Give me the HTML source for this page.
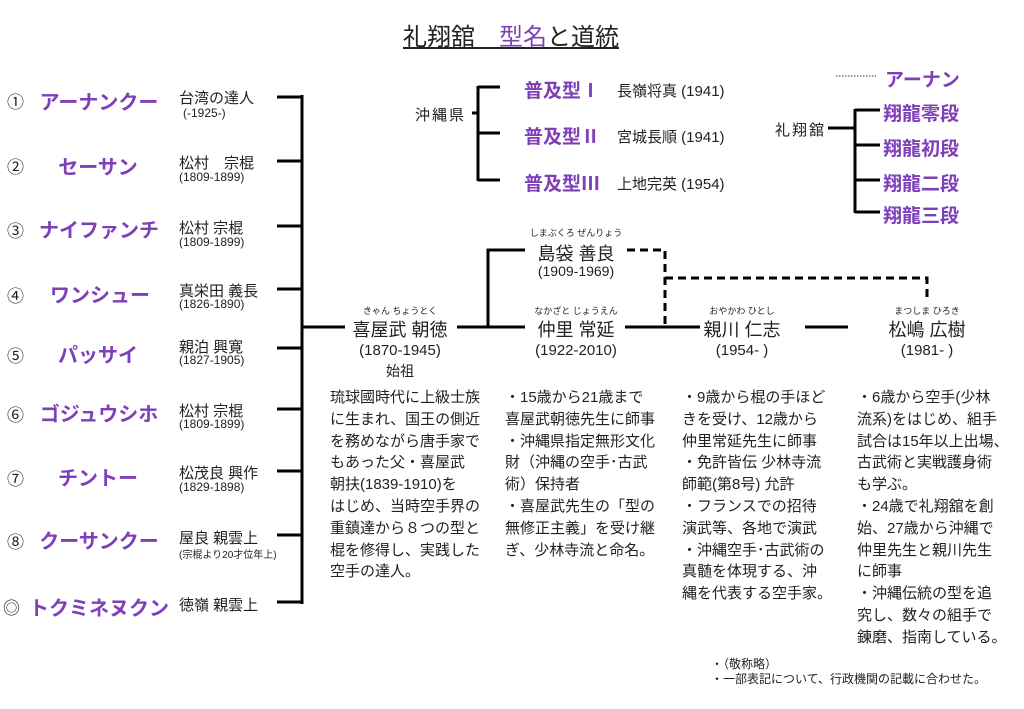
<!DOCTYPE html>
<html><head><meta charset="utf-8"><style>
body{margin:0;width:1024px;height:709px;background:#fff;position:relative;overflow:hidden;font-family:"Liberation Sans","Noto Sans CJK JP",sans-serif;color:#222}
.a{position:absolute;white-space:nowrap}
.p{color:#7e3fb8;font-weight:bold}
.k{font-size:20px;transform:translateX(-50%)}
.n{font-size:15px}
.d{font-size:12px}
.c{transform:translateX(-50%);text-align:center}
.t{font-size:15px;line-height:21.8px}
.m{font-size:17px}
svg{position:absolute;left:0;top:0}
</style></head><body>
<svg width="1024" height="709">
<g stroke="#000" stroke-width="3" fill="none">
<path d="M277 97H302M277 161H302M277 226H302M277 289H302M277 348H302M277 409H302M277 471H302M277 535H302M277 602H302M302 95V604M302 327H345"/>
<path d="M457 327H525M488 327V250H525M625 327H700M805 327H848"/>
<path d="M472 113H478M478 86V181M478 87H500M478 133H500M478 180H500"/>
<path d="M828 128H855M855 109V213M855 110H880M855 145H880M855 180H880M855 212H880"/>
</g>
<g stroke="#000" stroke-width="3" fill="none" stroke-dasharray="8,5">
<path d="M627 250H665V327M665 278H927V300"/>
</g>
<path d="M836 76H876" stroke="#333" stroke-width="1" stroke-dasharray="1.5,1.5"/>
</svg>
<div class="a" style="left:403px;top:17px;font-size:24px;text-decoration:underline">礼翔舘　<span style="color:#7e3fb8">型名</span>と道統</div>

<div class="a m" style="left:7px;top:88px">①</div>
<div class="a m" style="left:7px;top:153px">②</div>
<div class="a m" style="left:7px;top:217px">③</div>
<div class="a m" style="left:7px;top:282px">④</div>
<div class="a m" style="left:7px;top:342px">⑤</div>
<div class="a m" style="left:7px;top:401px">⑥</div>
<div class="a m" style="left:7px;top:465px">⑦</div>
<div class="a m" style="left:7px;top:528px">⑧</div>
<div class="a m" style="left:3px;top:594px">◎</div>

<div class="a p k" style="left:99px;top:86px">アーナンクー</div>
<div class="a p k" style="left:98px;top:151px">セーサン</div>
<div class="a p k" style="left:99px;top:214px">ナイファンチ</div>
<div class="a p k" style="left:100px;top:279px">ワンシュー</div>
<div class="a p k" style="left:98px;top:339px">パッサイ</div>
<div class="a p k" style="left:99px;top:398px">ゴジュウシホ</div>
<div class="a p k" style="left:98px;top:462px">チントー</div>
<div class="a p k" style="left:99px;top:525px">クーサンクー</div>
<div class="a p k" style="left:99px;top:592px">トクミネヌクン</div>

<div class="a n" style="left:179px;top:87px">台湾の達人</div><div class="a d" style="left:183px;top:106px">(-1925-)</div>
<div class="a n" style="left:179px;top:152px">松村　宗棍</div><div class="a d" style="left:179px;top:170px">(1809-1899)</div>
<div class="a n" style="left:179px;top:217px">松村 宗棍</div><div class="a d" style="left:179px;top:235px">(1809-1899)</div>
<div class="a n" style="left:179px;top:280px">真栄田 義長</div><div class="a d" style="left:179px;top:297px">(1826-1890)</div>
<div class="a n" style="left:179px;top:336px">親泊 興寛</div><div class="a d" style="left:179px;top:353px">(1827-1905)</div>
<div class="a n" style="left:179px;top:400px">松村 宗棍</div><div class="a d" style="left:179px;top:417px">(1809-1899)</div>
<div class="a n" style="left:179px;top:462px">松茂良 興作</div><div class="a d" style="left:179px;top:480px">(1829-1898)</div>
<div class="a n" style="left:179px;top:527px">屋良 親雲上</div><div class="a" style="left:179px;top:546px;font-size:10px">(宗棍より20才位年上)</div>
<div class="a n" style="left:179px;top:594px">徳嶺 親雲上</div>

<div class="a n" style="left:415px;top:104px;letter-spacing:2px">沖縄県</div>
<div class="a p" style="left:524px;top:76px;font-size:19px">普及型Ⅰ</div>
<div class="a p" style="left:524px;top:122px;font-size:19px">普及型Ⅱ</div>
<div class="a p" style="left:524px;top:169px;font-size:19px">普及型Ⅲ</div>
<div class="a n" style="left:617px;top:80px">長嶺将真 (1941)</div>
<div class="a n" style="left:617px;top:126px">宮城長順 (1941)</div>
<div class="a n" style="left:617px;top:173px">上地完英 (1954)</div>

<div class="a p" style="left:885px;top:65px;font-size:19px">アーナン</div>
<div class="a n" style="left:775px;top:119px;letter-spacing:2px">礼翔舘</div>
<div class="a p" style="left:883px;top:99px;font-size:19px">翔龍零段</div>
<div class="a p" style="left:883px;top:134px;font-size:19px">翔龍初段</div>
<div class="a p" style="left:883px;top:169px;font-size:19px">翔龍二段</div>
<div class="a p" style="left:883px;top:201px;font-size:19px">翔龍三段</div>

<div class="a c" style="left:576px;top:226px;font-size:9px">しまぶくろ ぜんりょう</div>
<div class="a c" style="left:576px;top:240px;font-size:18px">島袋 善良</div>
<div class="a c" style="left:576px;top:263px;font-size:14px">(1909-1969)</div>

<div class="a c" style="left:400px;top:304px;font-size:9px">きゃん ちょうとく</div>
<div class="a c" style="left:400px;top:316px;font-size:18px">喜屋武 朝徳</div>
<div class="a c" style="left:400px;top:342px;font-size:15px">(1870-1945)</div>
<div class="a c" style="left:400px;top:361px;font-size:14px">始祖</div>

<div class="a c" style="left:576px;top:304px;font-size:9px">なかざと じょうえん</div>
<div class="a c" style="left:576px;top:316px;font-size:18px">仲里 常延</div>
<div class="a c" style="left:576px;top:342px;font-size:15px">(1922-2010)</div>

<div class="a c" style="left:742px;top:304px;font-size:9px">おやかわ ひとし</div>
<div class="a c" style="left:742px;top:316px;font-size:18px">親川 仁志</div>
<div class="a c" style="left:742px;top:342px;font-size:15px">(1954- )</div>

<div class="a c" style="left:927px;top:304px;font-size:9px">まつしま ひろき</div>
<div class="a c" style="left:927px;top:316px;font-size:18px">松嶋 広樹</div>
<div class="a c" style="left:927px;top:342px;font-size:15px">(1981- )</div>

<div class="a t" style="left:330px;top:387px">琉球國時代に上級士族<br>に生まれ、国王の側近<br>を務めながら唐手家で<br>もあった父・喜屋武<br>朝扶(1839-1910)を<br>はじめ、当時空手界の<br>重鎮達から８つの型と<br>棍を修得し、実践した<br>空手の達人。</div>
<div class="a t" style="left:505px;top:387px">・15歳から21歳まで<br>喜屋武朝徳先生に師事<br>・沖縄県指定無形文化<br>財（沖縄の空手･古武<br>術）保持者<br>・喜屋武先生の「型の<br>無修正主義」を受け継<br>ぎ、少林寺流と命名。</div>
<div class="a t" style="left:682px;top:387px">・9歳から棍の手ほど<br>きを受け、12歳から<br>仲里常延先生に師事<br>・免許皆伝 少林寺流<br>師範(第8号) 允許<br>・フランスでの招待<br>演武等、各地で演武<br>・沖縄空手･古武術の<br>真髄を体現する、沖<br>縄を代表する空手家。</div>
<div class="a t" style="left:857px;top:387px">・6歳から空手(少林<br>流系)をはじめ、組手<br>試合は15年以上出場、<br>古武術と実戦護身術<br>も学ぶ。<br>・24歳で礼翔舘を創<br>始、27歳から沖縄で<br>仲里先生と親川先生<br>に師事<br>・沖縄伝統の型を追<br>究し、数々の組手で<br>錬磨、指南している。</div>

<div class="a" style="left:711px;top:655px;font-size:12px">・（敬称略）</div>
<div class="a" style="left:711px;top:670px;font-size:12px">・一部表記について、行政機関の記載に合わせた。</div>
</body></html>
